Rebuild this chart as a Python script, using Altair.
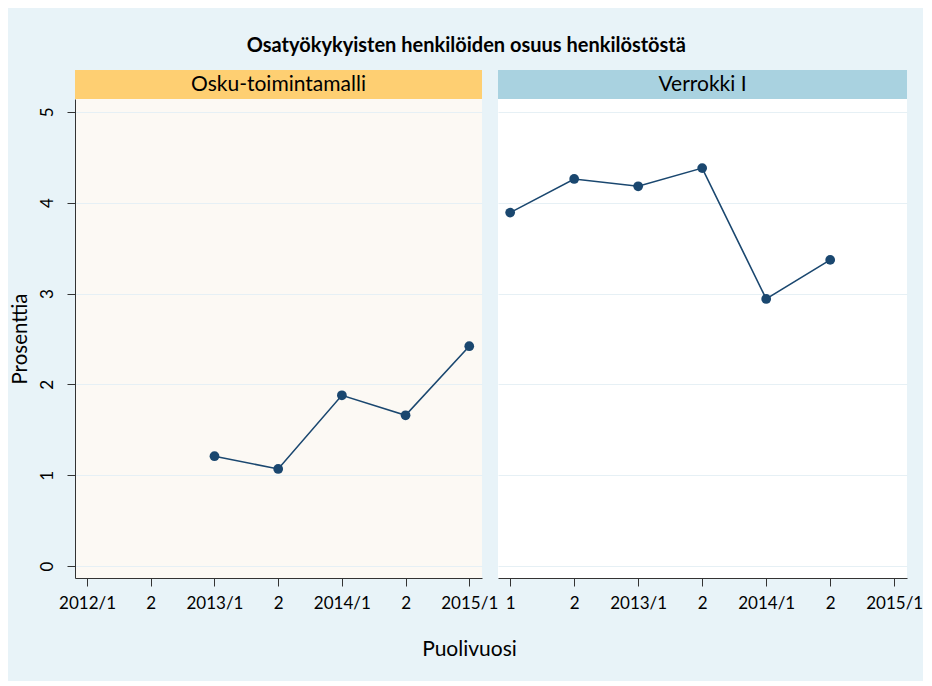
import altair as alt
import pandas as pd

FONT = "Lato"

# Data
tick_labels_left = ["2012/1", "2", "2013/1", "2", "2014/1", "2", "2015/1"]
tick_labels_right = ["1", "2", "2013/1", "2", "2014/1", "2", "2015/1"]
osku_period = [2, 3, 4, 5, 6]
osku_values = [1.21, 1.07, 1.88, 1.66, 2.42]
verrokki_period = [0, 1, 2, 3, 4, 5]
verrokki_values = [3.89, 4.26, 4.18, 4.38, 2.94, 3.37]
panel_titles = ["Osku-toimintamalli", "Verrokki I"]
header_colors = ["#fecf72", "#a9d2e0"]
panel_fills = ["#fcf9f4", "#ffffff"]
main_title = "Osatyökykyisten henkilöiden osuus henkilöstöstä"
y_title = "Prosenttia"
x_title = "Puolivuosi"

W_LEFT = 407
W_RIGHT = 409
GAP = 16
H = 479
LINE = "#1a476f"
GRID = "#e6f0f5"


def label_expr(labels):
    arr = "[" + ",".join("'" + s + "'" for s in labels) + "]"
    return f"{arr}[datum.value]"


def panel(periods, values, title, head_color, fill, labels, width, left):
    df = pd.DataFrame({"period": periods, "value": values})
    xaxis = alt.Axis(
        values=list(range(7)), labelExpr=label_expr(labels), grid=False,
        tickColor="#333333", domainColor="#333333", tickSize=8,
        labelFont=FONT, labelFontSize=17, labelColor="#000000", labelPadding=9,
        title=x_title if left else None,
        titleFont=FONT, titleFontSize=21, titleFontWeight="normal", titleColor="#000000",
        titleX=394 if left else 0, titleY=71,
        titleBaseline="middle", titleAnchor="middle", titleAlign="center",
    )
    if left:
        yaxis = alt.Axis(
            values=[0, 1, 2, 3, 4, 5], grid=True, gridColor=GRID,
            tickColor="#333333", domainColor="#333333", tickSize=8,
            labelAngle=270, labelAlign="center", labelBaseline="bottom",
            labelFont=FONT, labelFontSize=17, labelColor="#000000", labelPadding=11,
            title=y_title, titleFont=FONT, titleFontSize=20.5,
            titleFontWeight="normal", titleColor="#000000", titlePadding=8,
        )
    else:
        yaxis = alt.Axis(
            values=[0, 1, 2, 3, 4, 5], grid=True, gridColor=GRID,
            labels=False, ticks=False, domain=False, title=None,
        )
    x = alt.X("period:Q", scale=alt.Scale(domain=[-0.19, 6.2], nice=False, zero=False), axis=xaxis)
    y = alt.Y("value:Q", scale=alt.Scale(domain=[-0.13, 5.14], nice=False, zero=False), axis=yaxis)
    base = alt.Chart(df)
    line = base.mark_line(color=LINE, strokeWidth=1.6).encode(x=x, y=y)
    pts = base.mark_circle(color=LINE, size=95, opacity=1).encode(x=x, y=y)
    one = alt.Data(values=[{"k": 1}])
    head = alt.Chart(one).mark_rect(color=head_color).encode(
        x=alt.value(0), x2=alt.value(width), y=alt.value(-29), y2=alt.value(0)
    )
    head_text = alt.Chart(one).mark_text(font=FONT, fontSize=21, color="#000000", baseline="middle").encode(
        x=alt.value(width / 2), y=alt.value(-14), text=alt.value(title)
    )
    return alt.layer(head, head_text, line, pts).properties(
        width=width, height=H,
        view=alt.ViewBackground(fill=fill, strokeWidth=0),
    )


left = panel(osku_period, osku_values, panel_titles[0], header_colors[0], panel_fills[0],
             tick_labels_left, W_LEFT, True)
right = panel(verrokki_period, verrokki_values, panel_titles[1], header_colors[1], panel_fills[1],
              tick_labels_right, W_RIGHT, False)

chart = alt.hconcat(left, right, spacing=GAP, bounds="flush").properties(
    title=alt.TitleParams(main_title, font=FONT, fontSize=20, fontWeight="bold",
                          color="#000000", anchor="middle", offset=14),
    background="#e8f3f8",
    padding={"left": 2, "top": 28, "right": 0, "bottom": 22},
).configure_view(strokeWidth=0)

chart.save("out.html", embed_options={"renderer": "svg", "actions": False})
